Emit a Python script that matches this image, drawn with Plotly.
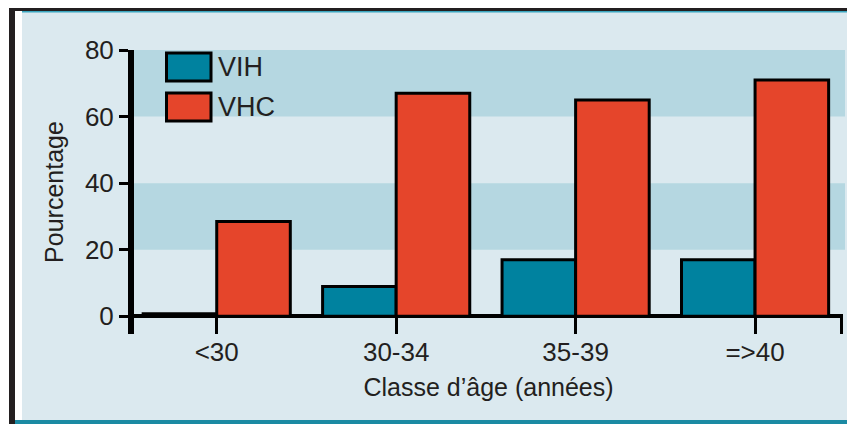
"""Pourcentage VIH / VHC par classe d'âge."""
import plotly.graph_objects as go

# Data
age_classes = ["<30", "30-34", "35-39", "=>40"]
vih = [0.8, 9, 17, 17]
vhc = [28.5, 67, 65, 71]
series_names = ["VIH", "VHC"]
y_ticks = [0, 20, 40, 60, 80]

VIH_COLOR = "#00829f"
VHC_COLOR = "#e5452b"
BG = "#dbe9ef"
STRIPE = "#b5d7e1"
INK = "#231f20"
FONT = "Liberation Sans, Arial, sans-serif"

# the page body adds an 8px margin, so the figure is laid out in screen px minus 8
OFF = 8
W, H = 855 - OFF, 424 - OFF
ML, MR, MT, MB = 134 - OFF, 12, 50 - OFF, 90


def px(x):
    """screen x -> paper x"""
    return (x - OFF - ML) / (W - ML - MR)


def py(y):
    """screen y -> paper y"""
    return (H - MB - (y - OFF)) / (H - MT - MB)


def rect(x0, y0, x1, y1, color, layer="above"):
    return dict(type="rect", xref="paper", yref="paper",
                x0=px(x0), x1=px(x1), y0=py(y0), y1=py(y1),
                fillcolor=color, line_width=0, layer=layer)


fig = go.Figure()
fig.add_trace(go.Bar(x=age_classes, y=vih, name=series_names[0],
                     marker=dict(color=VIH_COLOR, line=dict(color="black", width=3))))
fig.add_trace(go.Bar(x=age_classes, y=vhc, name=series_names[1],
                     marker=dict(color=VHC_COLOR, line=dict(color="black", width=3))))

shapes = []
# alternating bands 20-40 and 60-80
for lo in (20, 60):
    shapes.append(dict(type="rect", xref="paper", yref="y", x0=0, x1=px(845),
                       y0=lo, y1=lo + 20, fillcolor=STRIPE, line_width=0, layer="below"))
# end tick of the x axis
shapes.append(dict(type="line", xref="paper", yref="y", x0=px(841.5), x1=px(841.5),
                   y0=-5.3, y1=0, line=dict(color="black", width=3)))
# frame
shapes += [
    rect(8, 8, 22, 424, "white"),
    rect(9, 8, 15, 424, "#231f20"),
    rect(9, 8, 855, 11, "#231f20"),
    rect(22, 11, 855, 12.5, "#3aa6bf"),
    rect(15, 420, 855, 424, "#1b8aa3"),
]

# legend boxes + labels
annotations = []
for i, (name, color) in enumerate(zip(series_names, [VIH_COLOR, VHC_COLOR])):
    top = 53 + i * 40
    shapes.append(dict(type="rect", xref="paper", yref="paper",
                       x0=px(166.5), x1=px(211), y0=py(top), y1=py(top + 28),
                       fillcolor=color, line=dict(color="black", width=3)))
    annotations.append(dict(text=name, xref="paper", yref="paper",
                            x=px(216), y=py(top + 14), xanchor="left", yanchor="middle",
                            showarrow=False, font=dict(size=27, color=INK, family=FONT)))

fig.update_layout(
    width=W, height=H,
    margin=dict(l=ML, r=MR, t=MT, b=MB),
    paper_bgcolor=BG, plot_bgcolor=BG,
    font=dict(family=FONT, color=INK, size=26),
    barmode="group", bargap=0.18, bargroupgap=0,
    showlegend=False,
    shapes=shapes, annotations=annotations,
    xaxis=dict(
        type="category", range=[-0.461, 3.49],
        ticks="inside", ticklen=18, tickwidth=3, tickcolor="black",
        showline=False, showgrid=False, zeroline=False,
        tickfont=dict(size=26),
        title=dict(text="Classe d’âge (années)", font=dict(size=25), standoff=12),
    ),
    yaxis=dict(
        range=[-5.3, 80], tickvals=y_ticks,
        ticks="outside", ticklen=9, tickwidth=2.5, tickcolor="black",
        showline=True, linewidth=6, linecolor="black",
        showgrid=False,
        zeroline=True, zerolinewidth=4, zerolinecolor="black",
        tickfont=dict(size=26),
        title=dict(text="Pourcentage", font=dict(size=25), standoff=16),
    ),
)

fig.write_html("out.html")
